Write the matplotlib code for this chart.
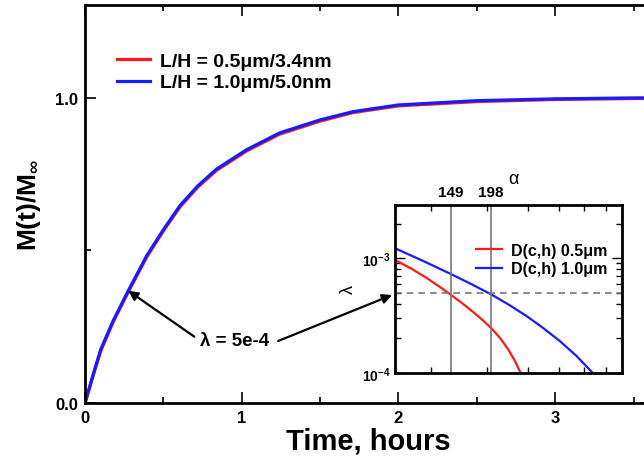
"""
Uptake curve M(t)/M_inf with lambda inset
"""

import matplotlib
matplotlib.use("Agg")
import matplotlib.pyplot as plt
from matplotlib.ticker import FixedLocator, NullFormatter

plt.rcParams["font.family"] = ["Liberation Sans", "DejaVu Sans"]
plt.rcParams["font.weight"] = "bold"
plt.rcParams["mathtext.fontset"] = "custom"
plt.rcParams["mathtext.rm"] = "Liberation Sans"
plt.rcParams["mathtext.bf"] = "Liberation Sans:bold"

# main curves (time in hours, normalized uptake)
t_hours = [0, 0.05, 0.1, 0.18, 0.276, 0.394, 0.5, 0.606, 0.72, 0.84, 1.03,
           1.24, 1.5, 1.71, 2.0, 2.5, 3.0, 3.5, 3.62]
m_05 = [0, 0.086, 0.170, 0.266, 0.364, 0.479, 0.564, 0.643, 0.708, 0.763,
        0.826, 0.881, 0.924, 0.952, 0.974, 0.988, 0.995, 0.998, 0.999]
m_10 = [0, 0.090, 0.175, 0.270, 0.368, 0.483, 0.568, 0.647, 0.712, 0.767,
        0.830, 0.885, 0.928, 0.955, 0.977, 0.991, 0.997, 1.0, 1.0]
labels_main = ["L/H = 0.5\u03bcm/3.4nm", "L/H = 1.0\u03bcm/5.0nm"]

# inset curves (alpha vs lambda)
alpha_05 = [100.3, 112, 125, 137, 149, 162, 175, 188, 200, 212, 224, 235,
            245]
lam_05 = [9.6e-4, 8.14e-4, 6.75e-4, 5.67e-4, 4.79e-4, 4.02e-4, 3.38e-4,
          2.84e-4, 2.41e-4, 2.00e-4, 1.61e-4, 1.28e-4, 1.0e-4]
alpha_10 = [100.3, 122.5, 149.1, 172.4, 199.4, 226.2, 254.8, 286.2, 323.0,
            364.7, 409.8]
lam_10 = [1.214e-3, 9.42e-4, 7.26e-4, 5.94e-4, 4.80e-4, 3.90e-4, 3.15e-4,
          2.49e-4, 1.91e-4, 1.41e-4, 1.0e-4]
labels_inset = ["D(c,h) 0.5\u03bcm", "D(c,h) 1.0\u03bcm"]
alpha_marks = [149, 198]
alpha_minor = [129, 193, 258, 322, 386, 451]
lam_level = 5e-4

fig = plt.figure(figsize=(6.44, 4.64), dpi=100)
ax = fig.add_axes([0.132, 0.1293, 0.881, 0.858])

ax.plot(t_hours, m_05, color="#ff1a1a", lw=2.3, label=labels_main[0])
ax.plot(t_hours, m_10, color="#1a1aff", lw=2.3, label=labels_main[1])
ax.set_xlim(0, 3.62)
ax.set_ylim(0, 1.305)

ax.set_xticks([0, 1, 2, 3])
ax.set_xticks([0.5, 1.5, 2.5, 3.5], minor=True)
ax.set_yticks([0, 1])
ax.set_yticklabels(["0.0", "1.0"])
ax.set_yticks([0.5], minor=True)
ax.tick_params(which="both", direction="in", top=True, right=True, width=1.2,
               labelsize=12, pad=5)
ax.tick_params(which="major", length=8)
ax.tick_params(which="minor", length=4)
ax.spines["right"].set_visible(False)
for s in ["left", "bottom", "top"]:
    ax.spines[s].set_linewidth(2.0)

ax.set_xlabel("Time, hours", fontsize=21, fontweight="bold", labelpad=1)
ax.set_ylabel(r"$\mathbf{M(t)/M_{\infty}}$", fontsize=19, labelpad=9)

ax.legend(loc="upper left", bbox_to_anchor=(0.025, 0.925), frameon=False,
          fontsize=14, handlelength=1.7, handletextpad=0.55, labelspacing=0.2)

# annotation arrows
arrow_kw = dict(arrowstyle="-|>", color="black", lw=1.6, mutation_scale=14)
ax.annotate("\u03bb = 5e-4", xy=(t_hours[4], m_10[4]), xycoords="data",
            xytext=(0.365, 0.263), textcoords="figure fraction",
            ha="center", va="center", fontsize=13.5, fontweight="bold",
            arrowprops=dict(relpos=(0, 0.5), shrinkA=3, shrinkB=0, **arrow_kw))
ax.annotate("", xy=(392 / 644, 1 - 296 / 464), xycoords="figure fraction",
            xytext=(0.432, 0.263), textcoords="figure fraction",
            arrowprops=dict(shrinkA=0, shrinkB=0, **arrow_kw))

# inset
axin = fig.add_axes([0.6134, 0.194, 0.3525, 0.362])
axin.plot(alpha_05, lam_05, color="#ff1a1a", lw=1.6, label=labels_inset[0])
axin.plot(alpha_10, lam_10, color="#1a1aff", lw=1.6, label=labels_inset[1])
axin.set_xscale("log")
axin.set_yscale("log")
axin.set_xlim(100, 505)
axin.set_ylim(1e-4, 2.9e-3)
axin.axhline(lam_level, color="#777777", lw=1.2, ls=(0, (4, 3)))
for a in alpha_marks:
    axin.axvline(a, color="#777777", lw=1.2)

axin.xaxis.set_major_locator(FixedLocator(alpha_marks))
axin.set_xticklabels([str(a) for a in alpha_marks])
axin.xaxis.set_minor_locator(FixedLocator(alpha_minor))
axin.xaxis.set_minor_formatter(NullFormatter())
axin.tick_params(axis="x", which="major", length=0, labeltop=True,
                 labelbottom=False, labelsize=11, pad=4)
axin.tick_params(axis="x", which="minor", direction="in", top=True,
                 bottom=True, length=4, width=1.0)

axin.yaxis.set_major_locator(FixedLocator([1e-4, 1e-3]))
axin.set_yticklabels([r"$\mathbf{10^{-4}}$", r"$\mathbf{10^{-3}}$"])
axin.yaxis.set_minor_locator(FixedLocator(
    [k * 1e-4 for k in range(2, 10)] + [2e-3]))
axin.yaxis.set_minor_formatter(NullFormatter())
axin.tick_params(axis="y", which="both", direction="in", left=True,
                 right=True, width=1.0, labelsize=10, pad=3)
axin.tick_params(axis="y", which="major", length=7)
axin.tick_params(axis="y", which="minor", length=4)
for s in axin.spines.values():
    s.set_linewidth(2.0)

axin.set_ylabel("\u03bb", fontsize=13, fontweight="normal", labelpad=4)
axin.text(0.52, 1.11, "\u03b1", transform=axin.transAxes, fontsize=13,
          fontweight="normal", ha="center", va="bottom")

axin.legend(loc="upper right", bbox_to_anchor=(1.0, 0.86), frameon=False,
            fontsize=11.5, handlelength=1.6, handletextpad=0.6,
            labelspacing=0.2)

fig.savefig("out.png", dpi=100)
